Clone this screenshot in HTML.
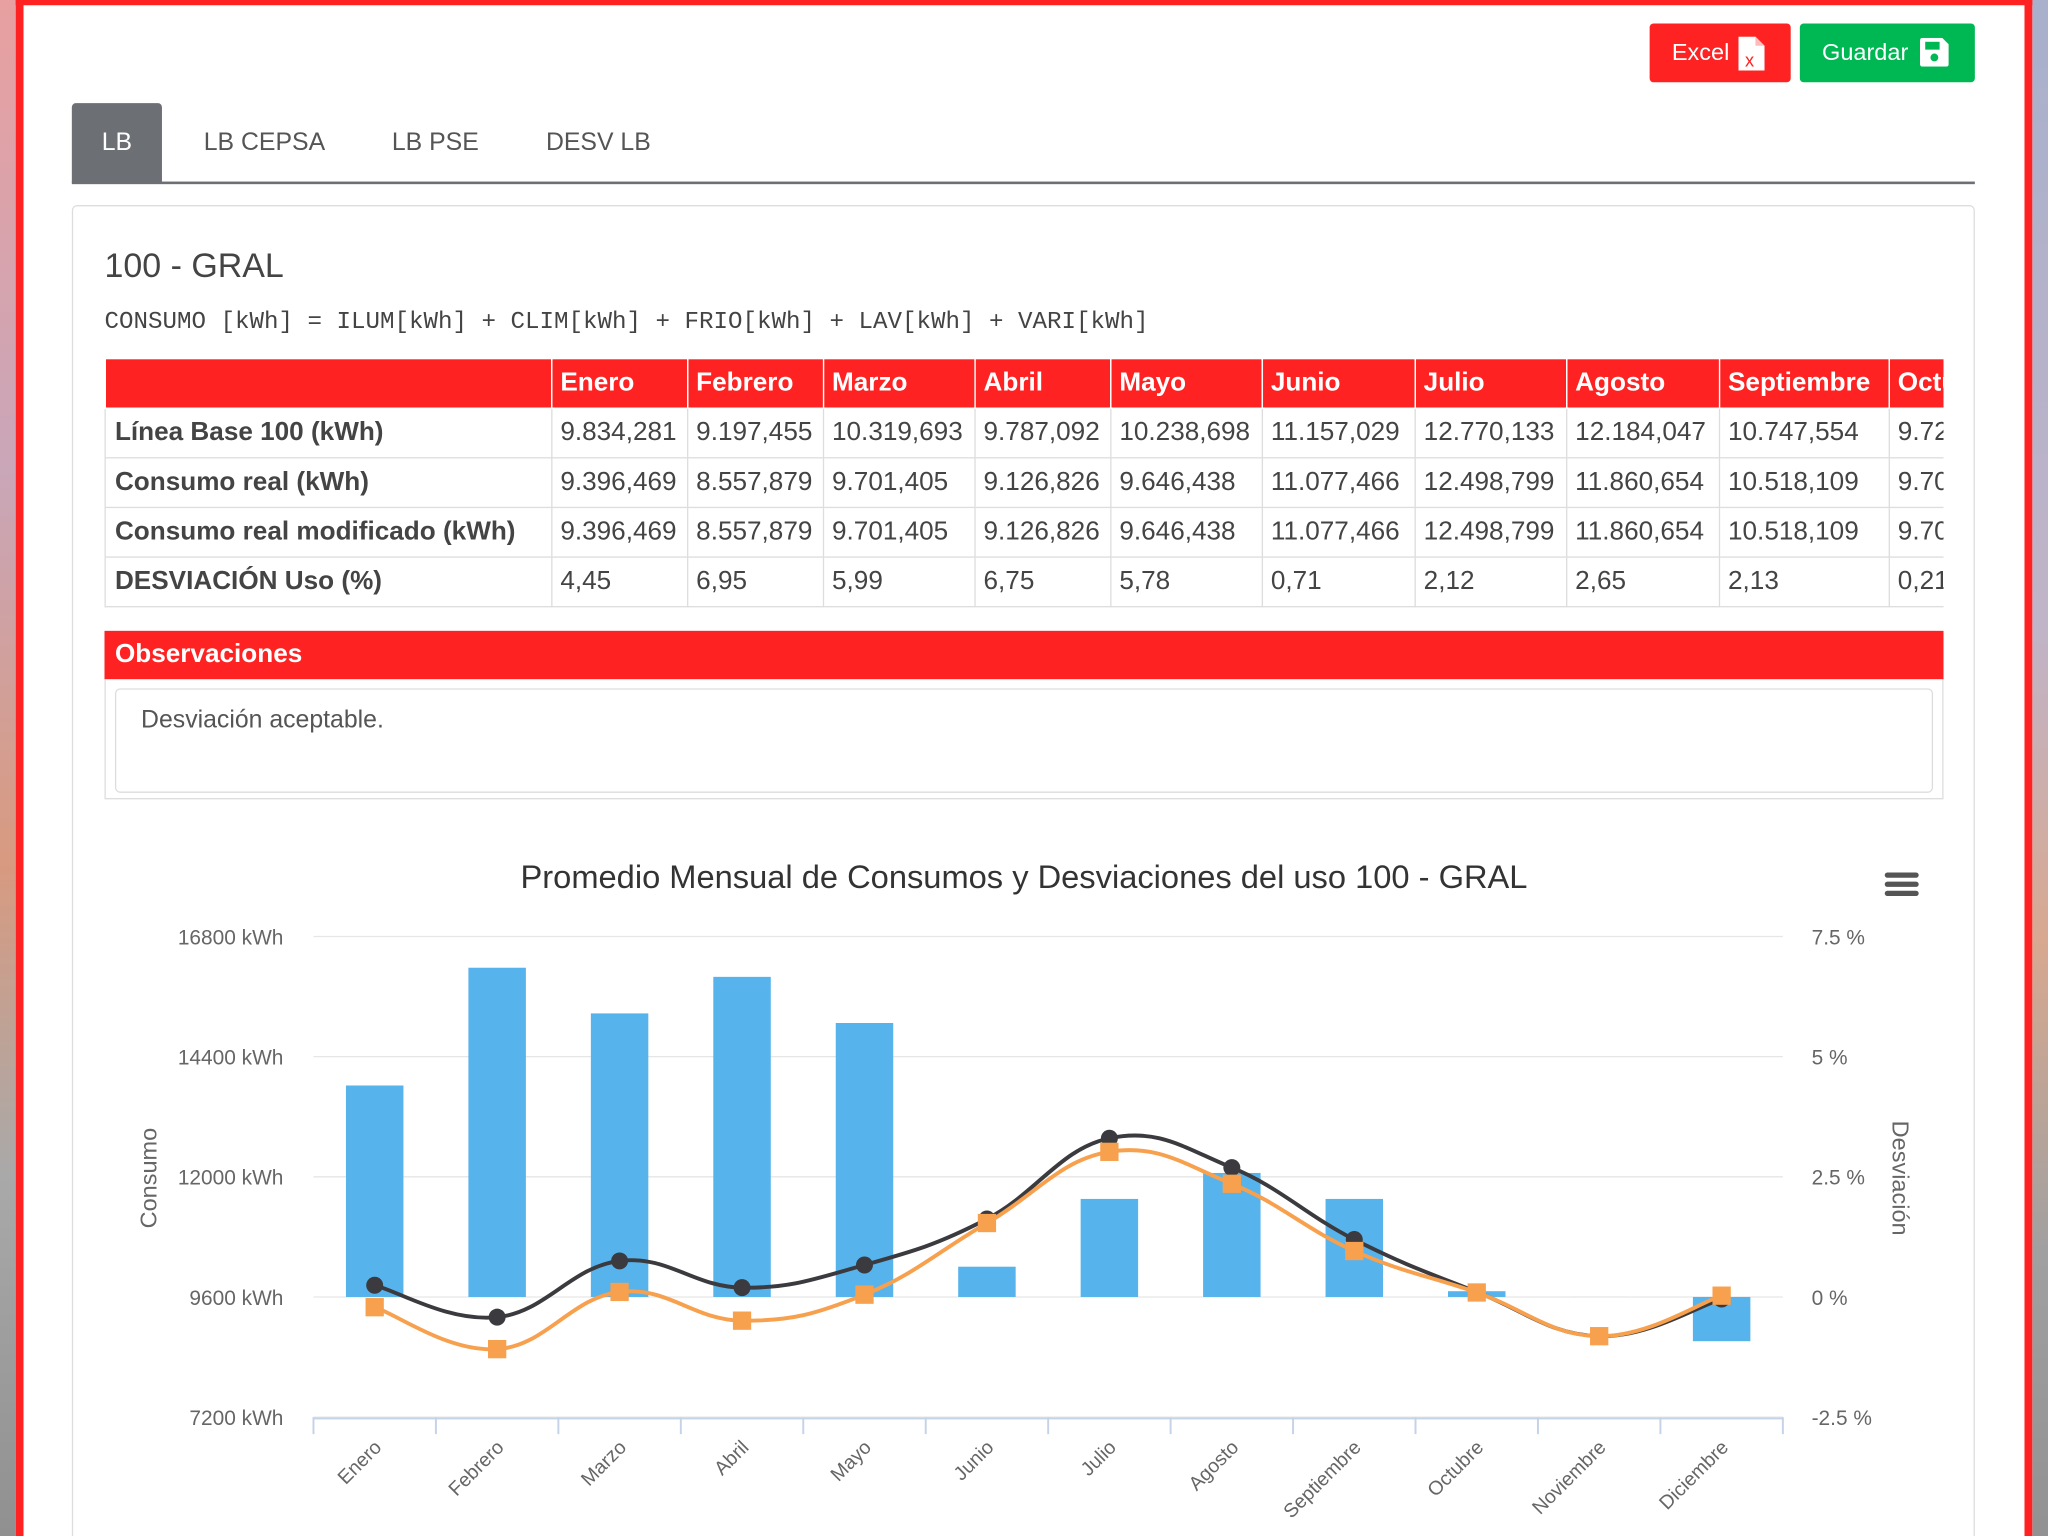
<!DOCTYPE html>
<html><head><meta charset="utf-8">
<style>
html,body{margin:0;padding:0;width:2048px;height:1536px;overflow:hidden;background:#fff;}
#wrap{position:absolute;left:0;top:0;width:1568px;height:1176px;overflow:hidden;transform:scale(1.306122);transform-origin:0 0;font-family:"Liberation Sans",sans-serif;}
.bgl{position:absolute;left:0;top:0;width:12px;height:1200px;background:linear-gradient(#e8a0a0,#c9a6b8 30%,#d89a80 55%,#a9a9a9 75%,#8e8e8e);}
.bgr{position:absolute;left:1556px;top:0;width:12px;height:1200px;background:linear-gradient(#a8b0cc,#c0b4c8 40%,#d8a890 60%,#a0a0a0 80%,#909090);}
.frame{position:absolute;left:12px;top:0;width:1532px;height:1200px;border:solid #ff2222;border-width:4px 6px 0 6px;background:#fff;}
.btn{position:absolute;top:18px;height:45px;border-radius:3px;color:#fff;font-size:18px;line-height:45px;}
.tab{position:absolute;top:79px;height:61px;line-height:61px;font-size:19px;color:#555;}
.card{position:absolute;left:55px;top:157px;width:1455px;height:1060px;border:1px solid #ddd;border-radius:4px;}
table{position:absolute;left:80px;top:274px;border-collapse:collapse;font-size:20px;color:#444;table-layout:fixed;}
td,th{border:1px solid #ddd;height:37px;padding:0 6px;white-space:nowrap;overflow:hidden;text-align:left;}
th{background:#ff2222;color:#fff;font-weight:bold;border-color:#fff;}
td.h{font-weight:bold;padding-left:7px;}
.clip{position:absolute;left:80px;top:274px;width:1408px;height:192px;overflow:hidden;}
</style></head><body>
<div id="wrap">
<div class="bgl"></div>
<div class="bgr"></div>
<div class="frame"></div>
<div class="btn" style="left:1263px;width:108px;background:#ff2222;"><span style="position:absolute;left:17px">Excel</span><svg style="position:absolute;left:68px;top:10px" width="20" height="26"><path d="M0 0H13L20 7V26H0Z" fill="#fff"/><path d="M13 0V7H20" fill="#ffbbbb"/><text x="5" y="23" font-size="14" fill="#ff2222" font-family="Liberation Sans">x</text></svg></div>
<div class="btn" style="left:1378px;width:134px;background:#00b853;"><span style="position:absolute;left:17px">Guardar</span><svg style="position:absolute;left:92px;top:11px" width="22" height="22"><path d="M0 2Q0 0 2 0H17L22 5V20Q22 22 20 22H2Q0 22 0 20Z" fill="#fff"/><rect x="4" y="3" width="11" height="6" fill="#00b853"/><circle cx="11" cy="15" r="3" fill="#00b853"/></svg></div>
<div class="tab" style="left:55px;width:69px;background:#6c6f74;color:#fff;text-align:center;border-radius:3px 3px 0 0">LB</div>
<div class="tab" style="left:156px">LB CEPSA</div>
<div class="tab" style="left:300px">LB PSE</div>
<div class="tab" style="left:418px">DESV LB</div>
<div style="position:absolute;left:55px;top:139px;width:1457px;height:2px;background:#6c6f74"></div>
<div class="card"></div>
<div style="position:absolute;left:80px;top:188px;font-size:26px;color:#444">100 - GRAL</div>
<div style="position:absolute;left:80px;top:236px;font-size:18.5px;color:#444;font-family:'Liberation Mono',monospace">CONSUMO [kWh] = ILUM[kWh] + CLIM[kWh] + FRIO[kWh] + LAV[kWh] + VARI[kWh]</div>
<div class="clip">
<table style="left:0;top:0;width:1480px">
<colgroup><col style="width:342px"><col style="width:104px"><col style="width:104px"><col style="width:116px"><col style="width:104px"><col style="width:116px"><col style="width:117px"><col style="width:116px"><col style="width:117px"><col style="width:130px"><col style="width:114px"></colgroup>
<tr><th></th><th>Enero</th><th>Febrero</th><th>Marzo</th><th>Abril</th><th>Mayo</th><th>Junio</th><th>Julio</th><th>Agosto</th><th>Septiembre</th><th>Octubre</th></tr>
<tr><td class="h">Línea Base 100 (kWh)</td><td>9.834,281</td><td>9.197,455</td><td>10.319,693</td><td>9.787,092</td><td>10.238,698</td><td>11.157,029</td><td>12.770,133</td><td>12.184,047</td><td>10.747,554</td><td>9.720,000</td></tr>
<tr><td class="h">Consumo real (kWh)</td><td>9.396,469</td><td>8.557,879</td><td>9.701,405</td><td>9.126,826</td><td>9.646,438</td><td>11.077,466</td><td>12.498,799</td><td>11.860,654</td><td>10.518,109</td><td>9.700,000</td></tr>
<tr><td class="h">Consumo real modificado (kWh)</td><td>9.396,469</td><td>8.557,879</td><td>9.701,405</td><td>9.126,826</td><td>9.646,438</td><td>11.077,466</td><td>12.498,799</td><td>11.860,654</td><td>10.518,109</td><td>9.700,000</td></tr>
<tr><td class="h">DESVIACIÓN Uso (%)</td><td>4,45</td><td>6,95</td><td>5,99</td><td>6,75</td><td>5,78</td><td>0,71</td><td>2,12</td><td>2,65</td><td>2,13</td><td>0,21</td></tr>
</table></div>
<div style="position:absolute;left:80px;top:483px;width:1408px;height:129px;border:1px solid #ddd;box-sizing:border-box"></div>
<div style="position:absolute;left:80px;top:483px;width:1400px;height:37px;background:#ff2222;color:#fff;font-weight:bold;font-size:20px;line-height:37px;padding-left:8px">Observaciones</div>
<div style="position:absolute;left:88px;top:527px;width:1392px;height:80px;border:1px solid #ddd;border-radius:4px;box-sizing:border-box;font-size:19px;color:#555;padding:13px 19px">Desviación aceptable.</div>
<svg id="chart" style="position:absolute;left:0;top:0" width="1568" height="1176"></svg>
</div>
<script>
const categories=["Enero","Febrero","Marzo","Abril","Mayo","Junio","Julio","Agosto","Septiembre","Octubre","Noviembre","Diciembre"];
const deviation=[4.4,6.85,5.9,6.66,5.7,0.63,2.04,2.58,2.04,0.12,0,-0.92];
const baseLine=[9834,9197,10320,9787,10239,11157,12770,12184,10748,9700,8817,9560];
const realCons=[9396,8558,9701,9127,9646,11077,12499,11861,10518,9690,8817,9626];
const leftTicks=[7200,9600,12000,14400,16800];
const rightTicks=[-2.5,0,2.5,5,7.5];
const NS="http://www.w3.org/2000/svg";
const svg=document.getElementById('chart');
const X0=240,X1=1365,Y0=1085,Y1=717;
const cw=(X1-X0)/categories.length;
const xc=i=>X0+cw*(i+0.5);
const yL=v=>Y0-(v-7200)/(16800-7200)*(Y0-Y1);
const yR=v=>Y0-(v+2.5)/10*(Y0-Y1);
function mk(t,a,p){const e=document.createElementNS(NS,t);for(const k in a)e.setAttribute(k,a[k]);(p||svg).appendChild(e);return e;}
function txt(x,y,s,a){const e=mk('text',Object.assign({x:x,y:y,'font-family':'Liberation Sans, sans-serif'},a));e.textContent=s;return e;}
let t=txt(784,680,"Promedio Mensual de Consumos y Desviaciones del uso 100 - GRAL",{'text-anchor':'middle','font-size':25,fill:'#333'});


const menu=mk('g',{});


[670,677,684].forEach(y=>mk('rect',{x:1443,y:y-2,width:26,height:4,rx:2,fill:'#555'},menu));
leftTicks.forEach((v,i)=>{
  const g=mk('line',{x1:X0,x2:X1,y1:yL(v),y2:yL(v),stroke:'#e6e6e6','stroke-width':1});
  
  
  const l=txt(217,yL(v)+6,v+" kWh",{'text-anchor':'end','font-size':16,fill:'#666'});
  
  
});
rightTicks.forEach(v=>{
  const l=txt(1387,yR(v)+6,v+" %",{'font-size':16,fill:'#666'});
  
  
});
t=txt(0,0,"Consumo",{'font-size':18,fill:'#666','text-anchor':'middle',transform:'translate(120,902) rotate(-90)'});


t=txt(0,0,"Desviación",{'font-size':18,fill:'#666','text-anchor':'middle',transform:'translate(1449,902) rotate(90)'});


deviation.forEach((v,i)=>{
  const y=yR(v),y0=yR(0);
  const b=mk('rect',{x:xc(i)-22,y:Math.min(y,y0),width:44,height:Math.max(Math.abs(y0-y),0.01),fill:'#57b3ec'});
  
  
});
const ax=mk('line',{x1:X0,x2:X1,y1:Y0+1,y2:Y0+1,stroke:'#c5d3e8','stroke-width':1.5});


for(let i=0;i<=categories.length;i++){mk('line',{x1:X0+cw*i,x2:X0+cw*i,y1:Y0,y2:Y0+13,stroke:'#c5d3e8','stroke-width':1.5});}
categories.forEach((c,i)=>{
  const l=txt(0,0,c,{'font-size':15,fill:'#666','text-anchor':'end',transform:`translate(${xc(i)+6},${Y0+24}) rotate(-45)`});
  
  
});
function spline(vals){
  const p=vals.map((v,i)=>[xc(i),yL(v)]);
  let d=`M${p[0][0]},${p[0][1]}`;
  for(let i=0;i<p.length-1;i++){
    const a=p[Math.max(i-1,0)],b=p[i],c=p[i+1],e=p[Math.min(i+2,p.length-1)];
    const s=0.2;
    d+=` C${b[0]+(c[0]-a[0])*s},${b[1]+(c[1]-a[1])*s} ${c[0]-(e[0]-b[0])*s},${c[1]-(e[1]-b[1])*s} ${c[0]},${c[1]}`;
  }
  return d;
}
let ln=mk('path',{d:spline(baseLine),fill:'none',stroke:'#3a3a3f','stroke-width':3});


ln=mk('path',{d:spline(realCons),fill:'none',stroke:'#f7a04d','stroke-width':3});


baseLine.forEach((v,i)=>{
  const m=mk('circle',{cx:xc(i),cy:yL(v),r:6.5,fill:'#3a3a3f'});
  
  
});
realCons.forEach((v,i)=>{
  const m=mk('rect',{x:xc(i)-7,y:yL(v)-7,width:14,height:14,fill:'#f7a04d'});
  
  
});
</script>
</body></html>
